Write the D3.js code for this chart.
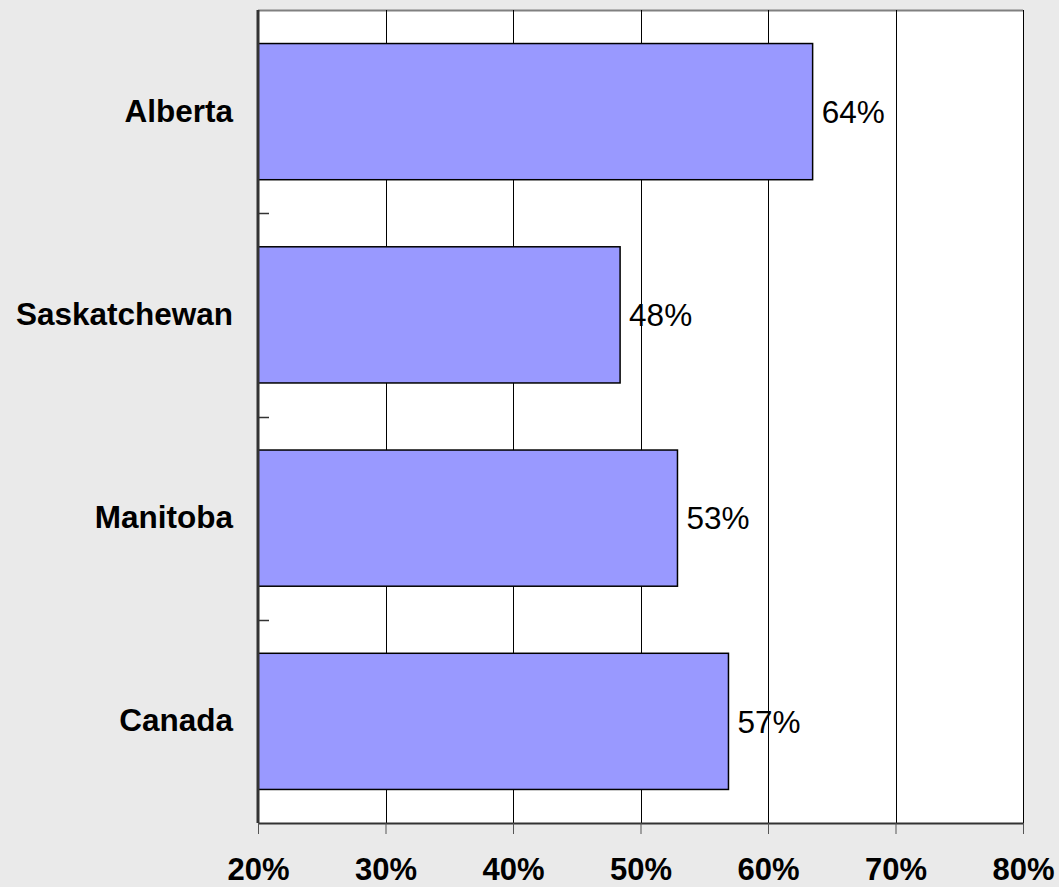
<!DOCTYPE html>
<html>
<head>
<meta charset="utf-8">
<script src="https://cdn.jsdelivr.net/npm/d3@7"></script>
<style>
  body { margin: 0; background: #eaeaea; }
  svg { display: block; font-family: "Liberation Sans", Arial, sans-serif; }
</style>
</head>
<body>
<svg id="chart" width="1059" height="887"></svg>
<script>
// data
var provinces = ["Alberta", "Saskatchewan", "Manitoba", "Canada"];
var shares = [63.5, 48.4, 52.9, 56.9];
var shareLabels = ["64%", "48%", "53%", "57%"];
var xTicks = [20, 30, 40, 50, 60, 70, 80];

var svg = d3.select("#chart");
// note: "top" is taken by window.top, so plot edges get their own names
var plotL = 258, plotR = 1023, plotT = 10, plotB = 823;

var x = d3.scaleLinear().domain([20, 80]).range([plotL, plotR]);
var y = d3.scaleBand().domain(provinces).range([plotT, plotB]).paddingInner(0.33).paddingOuter(0.165);
var yOuter = d3.scaleBand().domain(provinces).range([plotT, plotB]);

// plot area
svg.append("rect").attr("x", plotL).attr("y", plotT).attr("width", plotR - plotL).attr("height", plotB - plotT)
    .attr("fill", "#fff");
svg.append("line").attr("x1", plotL).attr("x2", plotR).attr("y1", plotT + 0.5).attr("y2", plotT + 0.5)
    .attr("stroke", "#808080").attr("stroke-width", 2);

// gridlines
svg.append("g").selectAll("line").data(xTicks.slice(1)).enter().append("line")
    .attr("x1", function(d){ return Math.round(x(d)) + 0.5; })
    .attr("x2", function(d){ return Math.round(x(d)) + 0.5; })
    .attr("y1", plotT).attr("y2", plotB)
    .attr("stroke", "#000").attr("stroke-width", 1);

// bars
var bars = svg.append("g");
bars.selectAll("rect").data(provinces).enter().append("rect")
    .attr("x", x(20))
    .attr("y", function(d){ return y(d); })
    .attr("width", function(d, i){ return x(shares[i]) - x(20); })
    .attr("height", y.bandwidth())
    .attr("fill", "#9999ff").attr("stroke", "#000").attr("stroke-width", 1.5);

bars.selectAll("text").data(provinces).enter().append("text")
    .attr("x", function(d, i){ return x(shares[i]) + 9; })
    .attr("y", function(d){ return y(d) + y.bandwidth() / 2; })
    .attr("dy", "0.36em")
    .attr("font-size", 31.5)
    .attr("fill", "#000")
    .text(function(d, i){ return shareLabels[i]; });

// x axis
var xAxis = svg.append("g").attr("transform", "translate(0," + plotB + ")")
    .call(d3.axisBottom(x).tickValues(xTicks).tickSize(11).tickSizeOuter(0)
        .tickFormat(function(d){ return d + "%"; }));
xAxis.select(".domain").attr("stroke", "#333").attr("stroke-width", 2);
xAxis.selectAll(".tick line").attr("stroke", "#555");
xAxis.selectAll(".tick text").attr("font-size", 31).attr("font-weight", "bold")
    .attr("font-family", "'Liberation Sans', Arial, sans-serif").attr("fill", "#000")
    .attr("y", 57).attr("dy", 0);

// y axis
var yAxis = svg.append("g").attr("transform", "translate(" + plotL + ",0)")
    .call(d3.axisLeft(y).tickSize(0).tickPadding(25));
yAxis.select(".domain").attr("stroke", "#333").attr("stroke-width", 3).attr("d", "M0," + plotT + "V" + plotB);
yAxis.selectAll(".tick text").attr("font-size", 31.5).attr("font-weight", "bold")
    .attr("font-family", "'Liberation Sans', Arial, sans-serif").attr("fill", "#000");

// inward category-boundary ticks
svg.append("g").selectAll("line").data(provinces.slice(1)).enter().append("line")
    .attr("x1", plotL).attr("x2", plotL + 11)
    .attr("y1", function(d){ return Math.round(yOuter(d)) + 0.5; })
    .attr("y2", function(d){ return Math.round(yOuter(d)) + 0.5; })
    .attr("stroke", "#333").attr("stroke-width", 1.5);
</script>
</body>
</html>
